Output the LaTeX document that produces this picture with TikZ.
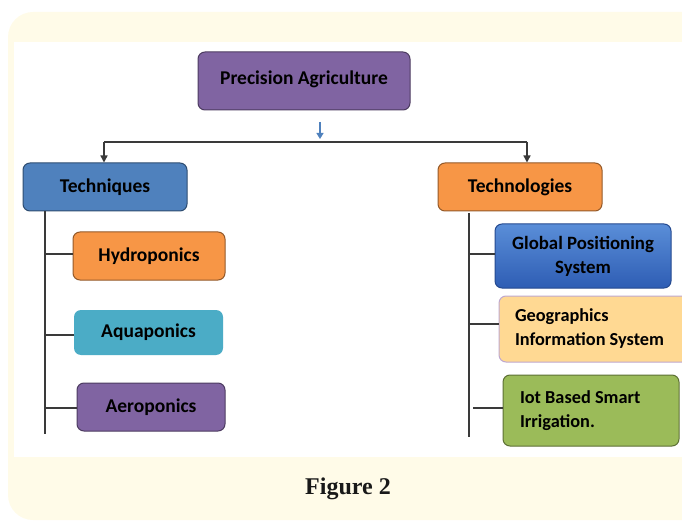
\documentclass[tikz,border=0pt]{standalone}
\usepackage{fontspec}
\setmainfont{Carlito}
\newfontfamily\capfont{Liberation Serif}
\usetikzlibrary{arrows.meta}
\definecolor{cream}{HTML}{FFFBE8}
\definecolor{linec}{HTML}{3A3A3A}
\definecolor{purp}{HTML}{8064A2}
\definecolor{blu}{HTML}{4F81BD}
\definecolor{orng}{HTML}{F79646}
\definecolor{aqua}{HTML}{4BACC6}
\definecolor{gpsTop}{HTML}{5A8ED8}
\definecolor{gpsBot}{HTML}{2E5DB4}
\definecolor{gisfill}{HTML}{FFD993}
\definecolor{gisedge}{HTML}{BFA8CF}
\definecolor{grn}{HTML}{9BBB59}
\definecolor{arrowblue}{HTML}{4F81BD}
\tikzset{
  box/.style={draw=#1!60!black, rounded corners=7pt, line width=1pt, inner sep=0pt,
    font=\fontsize{19.5}{24}\selectfont\bfseries, text=black, align=center},
  leftbox/.style={align=flush left, text width=#1, font=\fontsize{18.3}{24}\selectfont\bfseries},
  conn/.style={draw=linec, line width=1.4pt},
  arr/.style={conn, -{Triangle[length=7pt,width=7pt]}}
}
\begin{document}
\begin{tikzpicture}[x=1pt,y=-1pt]
\useasboundingbox (0,0) rectangle (682,521);
\fill[cream, rounded corners=25pt] (8,12) rectangle (720,520);
\fill[white] (14,42) rectangle (682,457);

% top node
\node[box=purp, fill=purp, minimum width=212pt, minimum height=58pt] (pa) at (304,81)
  {\raisebox{7pt}{Precision Agriculture}};
\node[box=blu, fill=blu, minimum width=164pt, minimum height=48pt] (tq) at (105,187) {Techniques};
\node[box=orng, fill=orng, minimum width=164pt, minimum height=48pt] (tc) at (520,187) {Technologies};

% left children
\node[box=orng, fill=orng, minimum width=152pt, minimum height=48pt] (hy) at (149,256) {Hydroponics};
\node[box=aqua, draw=none, fill=aqua, minimum width=149pt, minimum height=45pt] (aq) at (148.5,332.5) {Aquaponics};
\node[box=purp, fill=purp, minimum width=148pt, minimum height=48pt] (ae) at (151,407) {Aeroponics};

% right children
\node[box=gpsBot, draw=gpsBot!80!black, top color=gpsTop, bottom color=gpsBot, minimum width=176pt, minimum height=64pt,
  font=\fontsize{18.8}{24}\selectfont\bfseries] (gps) at (583,256)
  {Global Positioning\\System};
\node[box=gisedge, draw=gisedge, fill=gisfill, minimum width=190pt, minimum height=66pt, leftbox=158pt] (gis) at (594,329)
  {Geographics\\Information System};
\node[box=grn, fill=grn, minimum width=176pt, minimum height=71pt, leftbox=142pt] (iot) at (591,410.5)
  {Iot Based Smart\\Irrigation.};

% connectors
\coordinate (bl) at (104,142);
\coordinate (br) at (527,142);
\draw[conn] (bl) -- (br);
\draw[arr] (bl) -- (bl |- tq.north);
\draw[arr] (br) -- (br |- tc.north);
\coordinate (ba) at (320,122);
\coordinate (bb) at (320,139);
\draw[draw=arrowblue, line width=1.2pt, -{Triangle[length=6pt,width=7pt]}] (ba) -- (bb);

\coordinate (lt) at (45,211);
\coordinate (lb) at (45,434);
\draw[conn] (lt) -- (lb);
\draw[conn] (45,254) -- (hy.west |- 45,254);
\draw[conn] (45,335) -- (aq.west |- 45,335);
\draw[conn] (45,408) -- (ae.west |- 45,408);

\coordinate (rt) at (469,213);
\coordinate (rb) at (469,437);
\draw[conn] (rt) -- (rb);
\draw[conn] (469,254) -- (gps.west |- 469,254);
\draw[conn] (469,324) -- (gis.west |- 469,324);
\draw[conn] (473,408) -- (iot.west |- 473,408);

\node[font=\capfont\fontsize{24}{28}\selectfont\bfseries, text=black!90] (fig) at (348,489) {Figure 2};
\end{tikzpicture}
\end{document}
